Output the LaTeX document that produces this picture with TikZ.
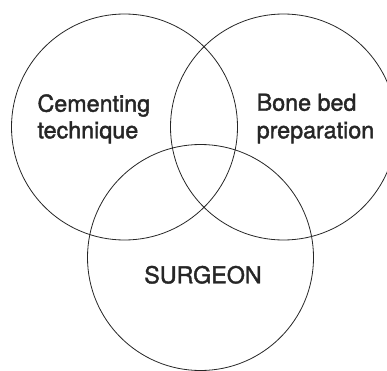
\documentclass[tikz,border=0pt]{standalone}
\usepackage{fontspec}
\setmainfont{TeX Gyre Heros}
\newfontfamily\lblfont[FakeBold=1.6]{TeX Gyre Heros}
\begin{document}
\begin{tikzpicture}[x=1pt,y=1pt,
  ring/.style={draw=black!85,line width=0.8pt},
  lbl/.style={inner sep=0pt,anchor=base west,font=\lblfont\fontsize{23.3}{27}\selectfont,text=black!85}]
\useasboundingbox (0,0) rectangle (387,370);
\draw[ring] (124.5,243) circle[radius=113];
\draw[ring] (283.5,243) circle[radius=113];
\draw[ring] (200.5,112.5) circle[radius=113];
\node[lbl] (c1) at (37.3,258.3) {Cementing};
\node[lbl] (c2) at (37.3,231.7) {technique};
\node[lbl] (b1) at (256.5,259.3) {Bone bed};
\node[lbl] (b2) at (256.5,231.7) {preparation};
\node[lbl,anchor=base] (s) at (203,86.7) {SURGEON};
\end{tikzpicture}
\end{document}
